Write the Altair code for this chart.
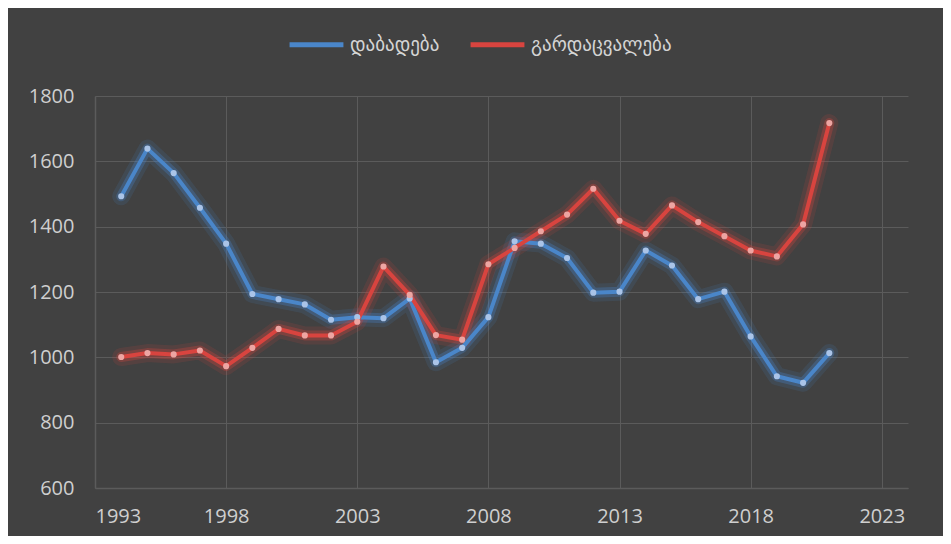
import altair as alt
import pandas as pd

years = list(range(1994, 2022))
births = [1493, 1639, 1564, 1458, 1348, 1194, 1178, 1162, 1115, 1123,
          1120, 1180, 985, 1029, 1123, 1355, 1348, 1304, 1198, 1201,
          1327, 1281, 1178, 1201, 1064, 942, 922, 1013]
deaths = [1001, 1013, 1009, 1021, 973, 1029, 1087, 1067, 1067, 1109,
          1278, 1191, 1068, 1054, 1285, 1335, 1386, 1437, 1516, 1418,
          1378, 1465, 1414, 1371, 1327, 1309, 1407, 1717]
series_names = ["დაბადება", "გარდაცვალება"]
line_colors = ["#4a86c9", "#d8443f"]
point_colors = ["#aac4e8", "#eda5a2"]
x_ticks = [1993, 1998, 2003, 2008, 2013, 2018, 2023]
y_ticks = [600, 800, 1000, 1200, 1400, 1600, 1800]

rows = []
for name, vals in zip(series_names, [births, deaths]):
    for y, v in zip(years, vals):
        rows.append({"year": y, "value": v, "series": name, "series_pt": name})
df = pd.DataFrame(rows)

x = alt.X("year:Q", scale=alt.Scale(domain=[1993, 2024], nice=False, zero=False),
          axis=alt.Axis(values=x_ticks, format="d", title=None, labelPadding=18))
y = alt.Y("value:Q", scale=alt.Scale(domain=[600, 1800], nice=False, zero=False),
          axis=alt.Axis(values=y_ticks, format="d", title=None, labelPadding=21))

base = alt.Chart(df)

# soft glow behind each series
glows = []
for name, col in zip(series_names, line_colors):
    sub = base.transform_filter(alt.datum.series == name)
    glows.append(sub.mark_line(color=col, strokeWidth=18, opacity=0.14,
                               strokeJoin="round", strokeCap="round").encode(x=x, y=y))
    glows.append(sub.mark_line(color=col, strokeWidth=10, opacity=0.3,
                               strokeJoin="round", strokeCap="round").encode(x=x, y=y))

line = base.mark_line(strokeWidth=4, strokeJoin="round").encode(
    x=x, y=y,
    color=alt.Color("series:N", title=None,
                    scale=alt.Scale(domain=series_names, range=line_colors),
                    legend=alt.Legend(orient="none", legendX=192, legendY=-81,
                                      direction="horizontal", symbolSize=2900,
                                      symbolType="stroke", symbolStrokeWidth=5,
                                      labelFont="DejaVu Sans", labelFontSize=19,
                                      labelColor="#d4d4d4", columnPadding=20,
                                      labelOffset=4)))
pts = base.mark_circle(size=38, opacity=1).encode(
    x=x, y=y,
    fill=alt.Fill("series_pt:N",
                  scale=alt.Scale(domain=series_names, range=point_colors),
                  legend=None))

chart = alt.layer(*glows, line, pts).properties(
    width=813, height=392,
    autosize=alt.AutoSizeParams(type="none"),
    padding={"left": 87, "top": 88, "right": 35, "bottom": 48},
    background="#414141",
).configure_view(strokeWidth=0).configure_axis(
    grid=True, gridColor="#5b5b5b", gridWidth=1,
    domainColor="#5b5b5b", domainWidth=1.5, ticks=False,
    labelColor="#cfcfcf", labelFont="Open Sans", labelFontSize=20,
)

chart.save("out.html", embed_options={"renderer": "svg", "actions": False})
